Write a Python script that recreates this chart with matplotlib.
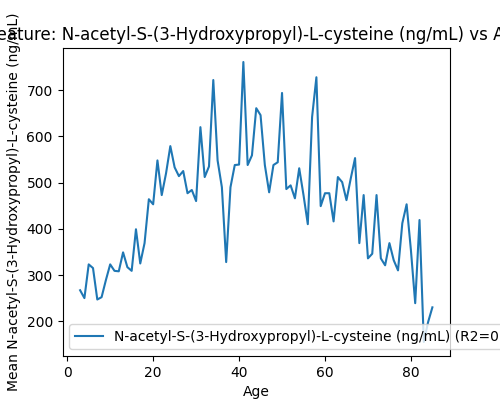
import matplotlib
matplotlib.use('Agg')
import matplotlib.pyplot as plt

feature = 'N-acetyl-S-(3-Hydroxypropyl)-L-cysteine (ng/mL)'
ages = list(range(3, 86))
means = [267, 250, 323, 315, 247, 252, 289, 323, 309, 308, 349, 317, 309, 399, 325,
         369, 464, 453, 548, 473, 520, 579, 533, 514, 525, 477, 484, 460, 620, 512,
         535, 722, 548, 490, 328, 490, 538, 539, 761, 538, 559, 661, 646, 538, 479,
         538, 544, 694, 486, 494, 466, 531, 473, 410, 642, 728, 449, 477, 477, 416,
         512, 501, 462, 509, 553, 369, 473, 336, 346, 473, 336, 321, 369, 332, 310,
         412, 453, 354, 239, 419, 155, 198, 230]
r2 = 0.42

fig, ax = plt.subplots(figsize=(5, 4), dpi=100)
ax.plot(ages, means, label=f'{feature} (R2={r2:.2f})')
ax.set_xlabel('Age')
ax.set_ylabel(f'Mean {feature}')
ax.set_title(f'Feature: {feature} vs Age')
ax.legend(loc='lower left')
fig.savefig('out.png')
